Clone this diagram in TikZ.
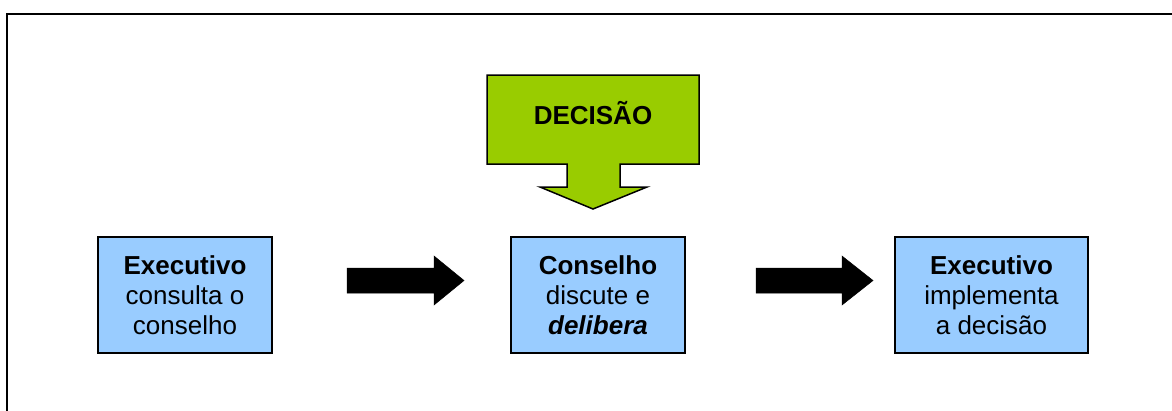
\documentclass[tikz,border=0pt]{standalone}
\usepackage{fontspec}
\setmainfont{Liberation Sans}
\definecolor{boxblue}{HTML}{99CCFF}
\definecolor{decgreen}{HTML}{99CC00}
\begin{document}
\begin{tikzpicture}[x=1pt,y=-1pt,
  stepbox/.style={draw, line width=1.5pt, fill=boxblue, align=center, inner sep=0pt,
    minimum height=116pt, font=\fontsize{26}{30}\selectfont},
  blockarrow/.style={fill=black, draw=black, line width=0.5pt},
  callout/.style={fill=decgreen, draw=black, line width=1.5pt, line join=miter}]
\useasboundingbox (0,0) rectangle (1172,410);
\begin{scope}
\clip (0,0) rectangle (1172,410);
\draw[line width=2pt] (7,430) -- (7,14) -- (1190,14);
\end{scope}
\node[stepbox, minimum width=174pt] (exec1) at (185,295) {\textbf{Executivo}\\consulta o\\conselho};
\node[stepbox, minimum width=174pt] (cons) at (598,295) {\textbf{Conselho}\\discute e\\\textbf{\textit{delibera}}};
\node[stepbox, minimum width=193pt] (exec2) at (991.5,295) {\textbf{Executivo}\\implementa\\a decisão};
\draw[blockarrow] (347,268) -- (434,268) -- (434,256) -- (464,280.5) -- (434,305) -- (434,293) -- (347,293) -- cycle;
\draw[blockarrow] (756,268) -- (842,268) -- (842,256) -- (873,280.5) -- (842,305) -- (842,293) -- (756,293) -- cycle;
\draw[callout] (487,75) -- (699,75) -- (699,164) -- (620,164) -- (620,187) -- (647,187) -- (593,209) -- (540,187) -- (567,187) -- (567,164) -- (487,164) -- cycle;
\node[font=\fontsize{26}{30}\selectfont\bfseries] (dec) at (593,113) {DECISÃO};
\end{tikzpicture}
\end{document}
